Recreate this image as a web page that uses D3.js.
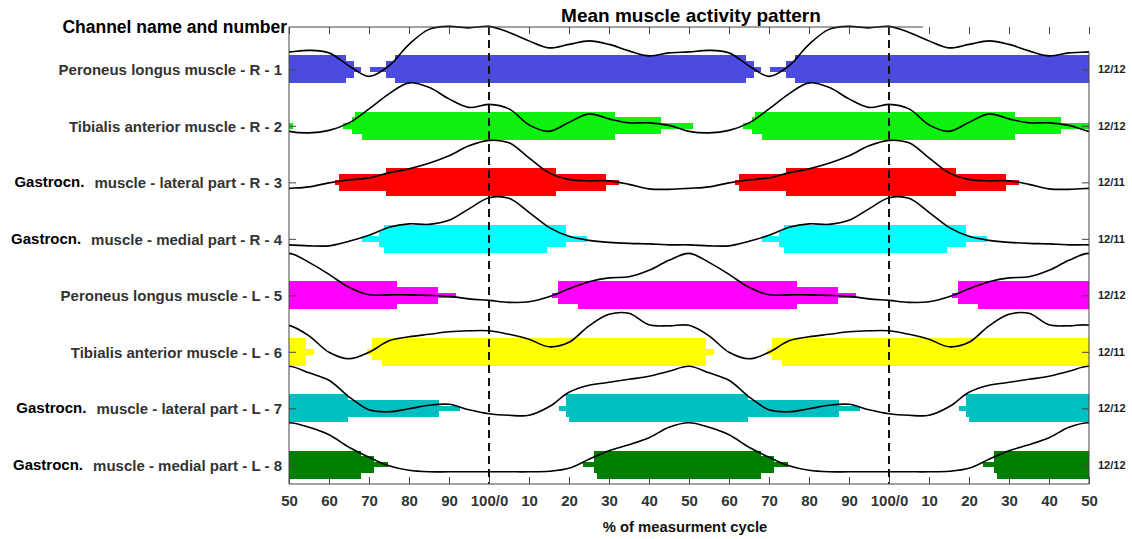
<!DOCTYPE html>
<html>
<head>
<meta charset="utf-8">
<script src="https://cdn.jsdelivr.net/npm/d3@7"></script>
<style>
  body { margin: 0; background: #fff; }
  svg { display: block; }
  text { font-family: "Liberation Sans", Arial, sans-serif; font-weight: bold; }
</style>
</head>
<body>
<div id="chart"></div>
<script>
// ---- data (one gait cycle, drawn twice) ----

// sample points of the mean activity curve, % of cycle
const cyclePct = [0, 5, 10, 15, 20, 25, 30, 35, 40, 45, 50, 55, 60, 65, 70, 75, 80, 85, 90, 95];

const channelNames = [
    "Peroneus longus muscle - R - 1",
    "Tibialis anterior muscle - R - 2",
    "muscle - lateral part - R - 3",
    "muscle - medial part - R - 4",
    "Peroneus longus muscle - L - 5",
    "Tibialis anterior muscle - L - 6",
    "muscle - lateral part - L - 7",
    "muscle - medial part - L - 8"
];
const nameLead = ["", "", "Gastrocn.", "Gastrocn.", "", "", "Gastrocn.", "Gastrocn."];
const channelCounts = ["12/12", "12/12", "12/11", "12/11", "12/12", "12/11", "12/12", "12/12"];
const channelColors = ["#4b4bdf", "#0ef00e", "#ff0000", "#00ffff", "#ff00ff", "#ffff00", "#00bfc0", "#007f00"];

// normalized mean activity (0..1) at cyclePct
const meanR1 = [1.00, 0.88, 0.71, 0.57, 0.64, 0.71, 0.64, 0.51, 0.41, 0.47, 0.49, 0.52, 0.47, 0.21, 0.00, 0.21, 0.64, 0.94, 1.00, 0.97];
const meanR2 = [0.57, 0.48, 0.16, 0.03, 0.21, 0.38, 0.28, 0.20, 0.20, 0.15, 0.03, 0.00, 0.05, 0.20, 0.48, 0.78, 1.00, 0.91, 0.68, 0.51];
const meanR3 = [0.98, 0.93, 0.63, 0.33, 0.20, 0.17, 0.17, 0.10, 0.01, 0.00, 0.02, 0.05, 0.13, 0.19, 0.23, 0.33, 0.41, 0.52, 0.67, 0.87];
const meanR4 = [0.96, 0.95, 0.67, 0.37, 0.19, 0.11, 0.07, 0.05, 0.04, 0.02, 0.02, 0.00, 0.00, 0.09, 0.21, 0.37, 0.44, 0.43, 0.51, 0.74];
const meanL5 = [0.04, 0.00, 0.01, 0.11, 0.27, 0.41, 0.49, 0.51, 0.64, 0.84, 0.98, 0.80, 0.56, 0.30, 0.15, 0.15, 0.15, 0.14, 0.12, 0.07];
const meanL6 = [0.56, 0.49, 0.39, 0.24, 0.33, 0.66, 0.89, 0.91, 0.68, 0.66, 0.67, 0.46, 0.13, 0.00, 0.13, 0.36, 0.44, 0.49, 0.54, 0.56];
const meanL7 = [0.03, 0.00, 0.00, 0.17, 0.46, 0.60, 0.66, 0.72, 0.78, 0.88, 0.98, 0.85, 0.70, 0.37, 0.11, 0.07, 0.13, 0.20, 0.22, 0.11];
const meanL8 = [0.00, 0.00, 0.00, 0.01, 0.07, 0.25, 0.42, 0.54, 0.68, 0.89, 0.98, 0.89, 0.74, 0.49, 0.29, 0.12, 0.03, 0.00, 0.00, 0.00];

// activity spans: [start %, end %, upper level, lower level]  (level 1 few .. 3 all subjects)
const spansR1 = [[70.2, 68.1, 1, 1], [74.2, 66.2, 2, 2], [76.4, 64.3, 3, 3]];
const spansR2 = [[63.6, 51.1, 1, 1], [65.7, 43.0, 2, 2], [66.5, 31.5, 3, 2], [68.2, 31.5, 3, 3]];
const spansR3 = [[61.5, 32.6, 1, 1], [62.5, 29.25, 2, 2], [74.25, 16.75, 3, 3]];
const spansR4 = [[68.2, 24.4, 1, 1], [72.5, 19.3, 2, 2], [73.8, 19.3, 3, 2], [73.8, 14.5, 3, 3]];
const spansL5 = [[15.8, 91.7, 1, 1], [17.3, 87.3, 2, 2], [17.3, 76.9, 3, 2], [22.3, 76.9, 3, 3]];
const spansL6 = [[69.6, 56.2, 1, 1], [70.7, 54.3, 3, 2], [73.2, 54.3, 3, 3]];
const spansL7 = [[17.6, 92.75, 1, 1], [19.2, 87.5, 2, 2], [19.2, 64.8, 3, 2], [20.1, 64.8, 3, 3]];
const spansL8 = [[23.6, 74.8, 1, 1], [26.2, 71.3, 2, 2], [26.2, 68.0, 3, 2], [26.9, 68.0, 3, 3]];

const meanCurves = [meanR1, meanR2, meanR3, meanR4, meanL5, meanL6, meanL7, meanL8];
const activitySpans = [spansR1, spansR2, spansR3, spansR4, spansL5, spansL6, spansL7, spansL8];

// x ticks every 10 % over two cycles, starting at 50 %
const xTicks = d3.range(0, 201, 10);

// ---- layout ----
const width = 1132, height = 539;
const plot = {left: 289, right: 1089, top: 27, bottom: 484};

const svg = d3.select("#chart").append("svg")
    .attr("width", width)
    .attr("height", height);

// position along the plot in % units (0 = 50 % of first cycle)
const x = d3.scaleLinear().domain([0, 200]).range([plot.left, plot.right]);
// channel number -> row centre
const y = d3.scaleLinear().domain([0.25, 8.34]).range([plot.top, plot.bottom]);
// thickness level -> half height of band in px
const halfBand = d3.scaleOrdinal().domain([0, 1, 2, 3]).range([0, 2.7, 8.4, 14]);

svg.append("clipPath").attr("id", "plotClip")
    .append("rect")
    .attr("x", plot.left).attr("y", 0)
    .attr("width", plot.right - plot.left).attr("height", plot.bottom);

const plotG = svg.append("g").attr("clip-path", "url(#plotClip)");

// bars: each span repeated for every cycle that is visible
activitySpans.forEach(function (spans, i) {
    let rows = [];
    spans.forEach(function (s) {
        let len = s[1] >= s[0] ? s[1] - s[0] : s[1] + 100 - s[0];
        [-1, 0, 1, 2].forEach(function (k) {
            let u0 = s[0] - 50 + 100 * k;
            if (u0 + len > 0 && u0 < 200) rows.push({u0: u0, u1: u0 + len, up: s[2], down: s[3]});
        });
    });
    plotG.append("g").selectAll("rect")
        .data(rows)
        .enter()
        .append("rect")
        .attr("x", d => x(d.u0))
        .attr("width", d => x(d.u1) - x(d.u0))
        .attr("y", d => y(i + 1) - halfBand(d.up))
        .attr("height", d => halfBand(d.up) + halfBand(d.down))
        .attr("fill", channelColors[i])
        .attr("shape-rendering", "crispEdges");
});

// dashed lines at 100/0
plotG.selectAll("line.cycle")
    .data([50, 150])
    .enter()
    .append("line")
    .attr("class", "cycle")
    .attr("x1", d => x(d)).attr("x2", d => x(d))
    .attr("y1", plot.top).attr("y2", plot.bottom)
    .attr("stroke", "#111")
    .attr("stroke-width", 2)
    .attr("stroke-dasharray", "8,5");

// mean activity curves
const line = d3.line()
    .x(d => x(d.u))
    .y(d => d.y)
    .curve(d3.curveCatmullRom.alpha(0.5));

meanCurves.forEach(function (vals, i) {
    let pts = [];
    [-1, 0, 1, 2].forEach(function (k) {
        cyclePct.forEach(function (p, j) {
            let u = p - 50 + 100 * k;
            if (u >= -15 && u <= 215) {
                pts.push({u: u, y: y(i + 1 + 0.124 - 0.885 * vals[j])});
            }
        });
    });
    plotG.append("path")
        .datum(pts)
        .attr("d", line)
        .attr("fill", "none")
        .attr("stroke", "#000")
        .attr("stroke-width", 1.6);
});

// ---- axes ----
const xAxis = d3.axisBottom(x)
    .tickValues(xTicks)
    .tickSizeInner(-7)
    .tickSizeOuter(0)
    .tickPadding(11)
    .tickFormat(function (d) {
        let p = (d + 50) % 100;
        return p === 0 ? "100/0" : p;
    });

svg.append("g")
    .attr("transform", `translate(0,${plot.bottom})`)
    .call(xAxis)
    .call(g => g.select(".domain").remove())
    .call(g => g.selectAll("line").attr("stroke", "#444"))
    .call(g => g.selectAll("text").attr("font-size", 15).attr("fill", "#333")
        .attr("font-family", "Liberation Sans, Arial, sans-serif"));

svg.append("g")
    .attr("transform", `translate(0,${plot.top})`)
    .call(d3.axisTop(x).tickValues(xTicks).tickSizeInner(-7).tickSizeOuter(0).tickFormat(""))
    .call(g => g.select(".domain").remove())
    .call(g => g.selectAll("line").attr("stroke", "#444"));

svg.append("g")
    .attr("transform", `translate(${plot.left},0)`)
    .call(d3.axisLeft(y).tickValues(d3.range(1, 9)).tickSizeInner(-7).tickSizeOuter(0).tickFormat(""))
    .call(g => g.select(".domain").remove())
    .call(g => g.selectAll("line").attr("stroke", "#444"));

svg.append("g")
    .attr("transform", `translate(${plot.right},0)`)
    .call(d3.axisRight(y).tickValues(d3.range(1, 9)).tickSizeInner(-7).tickSizeOuter(0).tickPadding(9)
        .tickFormat(d => channelCounts[d - 1]))
    .call(g => g.select(".domain").remove())
    .call(g => g.selectAll("line").attr("stroke", "#444"))
    .call(g => g.selectAll("text").attr("font-size", 11).attr("fill", "#222")
        .attr("font-family", "Liberation Sans, Arial, sans-serif"));

// frame (top right corner of the original is cut away)
const frame = [
    [plot.left, plot.top, plot.left, plot.bottom],
    [plot.left, plot.bottom, plot.right, plot.bottom],
    [plot.left, plot.top, 923, plot.top],
    [plot.right, 52, plot.right, plot.bottom]
];
svg.selectAll("line.frame")
    .data(frame)
    .enter()
    .append("line")
    .attr("class", "frame")
    .attr("x1", d => d[0]).attr("y1", d => d[1])
    .attr("x2", d => d[2]).attr("y2", d => d[3])
    .attr("stroke", "#444")
    .attr("stroke-width", 1);

// channel labels
channelNames.forEach(function (name, i) {
    let t = svg.append("text")
        .attr("x", 282)
        .attr("y", y(i + 1) + 6)
        .attr("text-anchor", "end")
        .attr("font-size", 15)
        .attr("fill", "#333")
        .text(name);
    if (nameLead[i]) {
        let w = t.node().getComputedTextLength();
        svg.append("text")
            .attr("x", 282 - w - 10)
            .attr("y", y(i + 1) + 5)
            .attr("text-anchor", "end")
            .attr("font-family", "Lato, sans-serif")
            .attr("font-size", 15)
            .attr("fill", "#000")
            .text(nameLead[i]);
    }
});

// titles
svg.append("text")
    .attr("x", 287).attr("y", 33)
    .attr("text-anchor", "end")
    .attr("font-size", 17.5)
    .attr("fill", "#000")
    .text("Channel name and number");

svg.append("text")
    .attr("x", 691).attr("y", 22)
    .attr("text-anchor", "middle")
    .attr("font-size", 19)
    .attr("fill", "#000")
    .text("Mean muscle activity pattern");

svg.append("text")
    .attr("x", 685).attr("y", 532)
    .attr("text-anchor", "middle")
    .attr("font-size", 14.8)
    .attr("fill", "#111")
    .text("% of measurment cycle");
</script>
</body>
</html>
